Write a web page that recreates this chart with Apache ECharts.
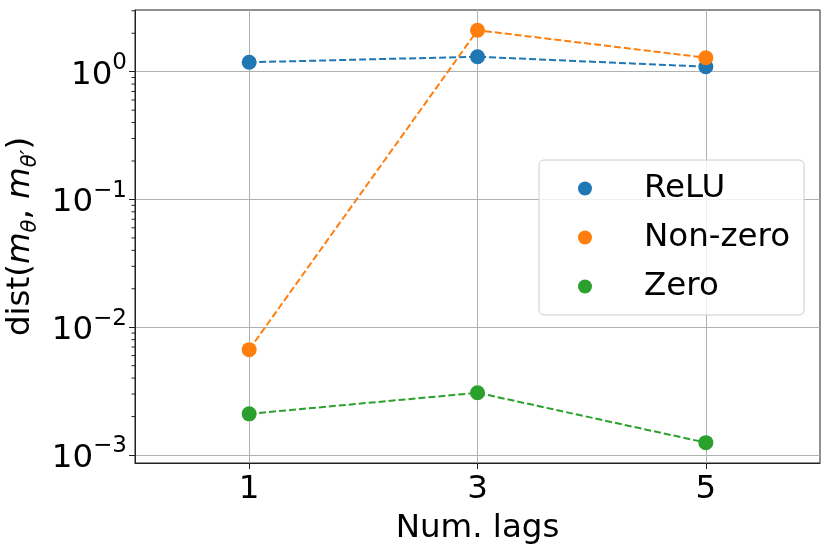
<!DOCTYPE html>
<html>
<head>
<meta charset="utf-8">
<script src="https://cdn.jsdelivr.net/npm/echarts@6/dist/echarts.min.js"></script>
<style>html,body{margin:0;padding:0;background:#fff}#c{width:830px;height:552px}</style>
</head>
<body>
<div id="c"></div>
<script>
const lags = [1, 3, 5];
const seriesNames = ['ReLU', 'Non-zero', 'Zero'];
const reluVals = [1.185, 1.31, 1.094];
const nonzeroVals = [0.00668, 2.11, 1.287];
const zeroVals = [0.00210, 0.00307, 0.00125];
const yTicks = [0.001, 0.01, 0.1, 1];
const yTickExps = ['−3', '−2', '−1', '0'];
const minorTicks = [];
[0.001, 0.01, 0.1, 1].forEach(d => { for (let k = 2; k <= 9; k++) minorTicks.push(d * k); });

const colors = ['#1f77b4', '#ff7f0e', '#2ca02c'];
const FONT = 'DejaVu Sans';
const FS = 32.5;
const allVals = [reluVals, nonzeroVals, zeroVals];

const chart = echarts.init(document.getElementById('c'), null, {renderer: 'canvas'});
const series = seriesNames.map((n, i) => ({
  name: n,
  type: 'line',
  data: lags.map((x, j) => [x, allVals[i][j]]),
  symbol: 'circle',
  symbolSize: 15,
  itemStyle: {color: colors[i]},
  lineStyle: {color: colors[i], width: 2, type: [7, 3]},
  z: 3 + i
}));
series.push({
  type: 'custom',
  silent: true,
  clip: false,
  data: minorTicks.map(v => [0, v]),
  renderItem: function (params, api) {
    const p = api.coord([api.value(0), api.value(1)]);
    const ext = 3.5;
    return {type: 'line', shape: {x1: p[0] - ext, y1: p[1], x2: p[0], y2: p[1]}, style: {stroke: '#222', lineWidth: 1}};
  },
  encode: {x: 0, y: 1},
  z: 10
});

chart.setOption({
  animation: false,
  backgroundColor: '#fff',
  grid: {left: 135, top: 10, right: 10, bottom: 89, containLabel: false, outerBoundsMode: 'none', show: true, borderColor: '#222', borderWidth: 1, backgroundColor: 'transparent'},
  xAxis: {
    type: 'value', min: 0, max: 6,
    name: 'Num. lags', nameLocation: 'middle', nameGap: 49,
    nameTextStyle: {fontFamily: FONT, fontSize: FS, color: '#000'},
    axisLine: {show: true, onZero: false, lineStyle: {color: '#222', width: 1}},
    axisTick: {show: true, length: 6, lineStyle: {color: '#222'}, customValues: lags},
    axisLabel: {fontFamily: FONT, fontSize: FS, color: '#000', margin: 10, customValues: lags},
    splitLine: {show: true, lineStyle: {color: '#b0b0b0', width: 1}}
  },
  yAxis: {
    type: 'log', logBase: 10, min: 8.66e-4, max: 3.04,
    name: '{t|dist(}{m|m}{s|θ}{t|, }{m|m}{s|θ′}{t|)}',
    nameLocation: 'middle', nameGap: 93, nameRotate: 90,
    nameTextStyle: {
      fontFamily: FONT, fontSize: FS, color: '#000',
      rich: {
        t: {fontFamily: FONT, fontSize: FS, color: '#000', lineHeight: 40, verticalAlign: 'middle'},
        m: {fontFamily: FONT, fontSize: FS, fontStyle: 'italic', color: '#000', lineHeight: 40, verticalAlign: 'middle'},
        s: {fontFamily: FONT, fontSize: 21, fontStyle: 'italic', color: '#000', lineHeight: 40, verticalAlign: 'bottom'}
      }
    },
    axisLine: {show: true, lineStyle: {color: '#222', width: 1}},
    axisTick: {show: true, length: 6, lineStyle: {color: '#222'}, customValues: yTicks},
    axisLabel: {
      customValues: yTicks,
      margin: 8,
      formatter: function (v) {
        const e = Math.round(Math.log10(v));
        const idx = yTicks.findIndex(t => Math.abs(Math.log10(t) - e) < 1e-6);
        return '{b|10}{e|' + yTickExps[idx] + '}';
      },
      rich: {
        b: {fontFamily: FONT, fontSize: FS, color: '#000', lineHeight: 40, verticalAlign: 'bottom'},
        e: {fontFamily: FONT, fontSize: 23, color: '#000', lineHeight: 40, verticalAlign: 'top'}
      }
    },
    splitLine: {show: true, lineStyle: {color: '#b0b0b0', width: 1}}
  },
  legend: {
    orient: 'vertical', left: 539, top: 160,
    padding: [10, 14, 10, 39],
    itemWidth: 14, itemHeight: 14, itemGap: 12,
    backgroundColor: 'rgba(255,255,255,0.8)',
    borderColor: '#cccccc', borderWidth: 1, borderRadius: 5,
    data: seriesNames.map(n => ({name: n, icon: 'circle'})),
    textStyle: {fontFamily: FONT, fontSize: FS, color: '#000', lineHeight: 37, padding: [0, 0, 0, 47]},
    itemStyle: {borderWidth: 0}
  },
  series: series
});
</script>
</body>
</html>
